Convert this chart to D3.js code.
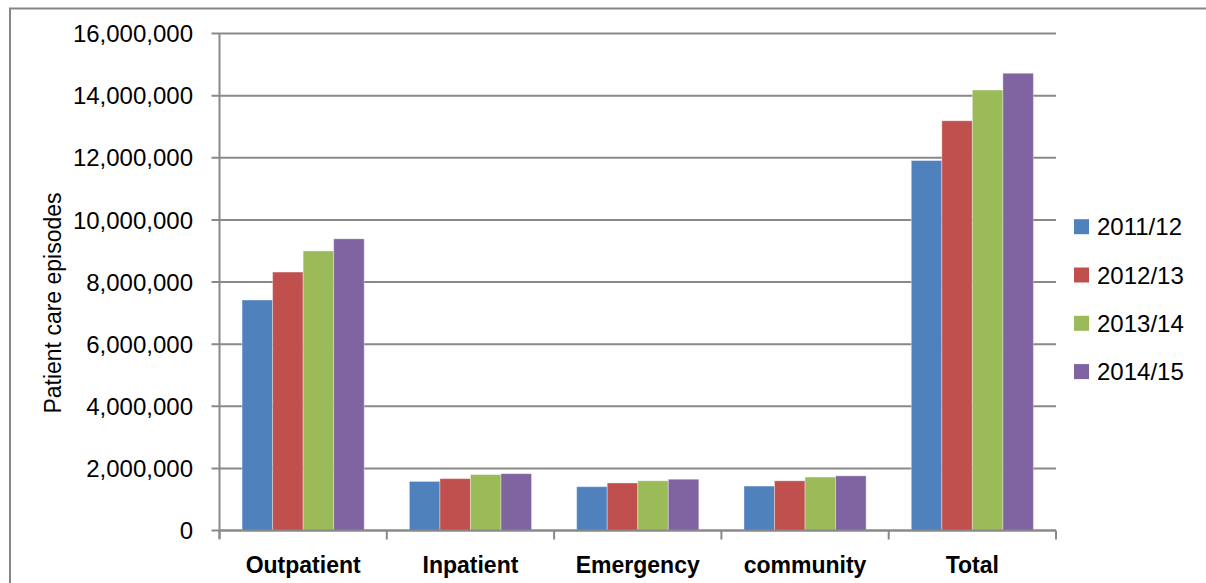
<!DOCTYPE html>
<html lang="en">

<head>
    <meta charset="UTF-8">
    <title>Patient care episodes</title>
    <script src="https://d3js.org/d3.v7.min.js"></script>
    <style>
        body { margin: 0; background: #fff; }
        text { font-family: "Liberation Sans", Arial, sans-serif; fill: #000; }
    </style>
</head>

<body>
    <script>
        const width = 1206;
        const height = 583;

        // data
        const categories = ["Outpatient", "Inpatient", "Emergency", "community", "Total"];
        const seriesNames = ["2011/12", "2012/13", "2013/14", "2014/15"];
        const v2011 = [7420000, 1580000, 1410000, 1430000, 11910000];
        const v2012 = [8320000, 1670000, 1530000, 1600000, 13190000];
        const v2013 = [9000000, 1800000, 1600000, 1720000, 14180000];
        const v2014 = [9390000, 1830000, 1650000, 1760000, 14720000];
        const yTicks = [0, 2000000, 4000000, 6000000, 8000000, 10000000, 12000000, 14000000, 16000000];
        const colors = ["#4F81BD", "#C0504D", "#9BBB59", "#8064A2"];

        const allSeries = [v2011, v2012, v2013, v2014];

        const plotLeft = 219.5, plotRight = 1056, plotTop = 33.5, plotBottom = 530.5;

        const svg = d3.select("body").append("svg")
            .attr("width", width)
            .attr("height", height);

        // outer chart frame (only left and top visible)
        svg.append("path")
            .attr("d", `M10,${height + 5} V8.5 H${width + 5}`)
            .attr("fill", "none")
            .attr("stroke", "#868686")
            .attr("stroke-width", 2);

        const y = d3.scaleLinear().domain([0, 16000000]).range([plotBottom, plotTop]);
        const x0 = d3.scaleBand().domain(categories).range([plotLeft, plotRight])
            .paddingInner(0.27).paddingOuter(0.135);
        const x1 = d3.scaleBand().domain(seriesNames).range([0, x0.bandwidth()]);

        // gridlines
        svg.append("g")
            .selectAll("line")
            .data(yTicks)
            .join("line")
            .attr("x1", plotLeft - 8)
            .attr("x2", plotRight)
            .attr("y1", d => y(d))
            .attr("y2", d => y(d))
            .attr("stroke", "#898989")
            .attr("stroke-width", 2);

        // y axis labels
        const fmt = d3.format(",");
        svg.append("g")
            .selectAll("text")
            .data(yTicks)
            .join("text")
            .attr("x", 193)
            .attr("y", d => y(d))
            .attr("dy", "0.36em")
            .attr("text-anchor", "end")
            .style("font-size", "24px")
            .text(d => fmt(d));

        // bars
        const groups = svg.append("g")
            .selectAll("g")
            .data(categories)
            .join("g")
            .attr("transform", d => `translate(${x0(d)},0)`);

        groups.selectAll("rect")
            .data((c, i) => allSeries.map((s, k) => ({ name: seriesNames[k], value: s[i], k })))
            .join("rect")
            .attr("x", d => x1(d.name))
            .attr("width", x1.bandwidth())
            .attr("y", d => y(d.value))
            .attr("height", d => y(0) - y(d.value))
            .attr("fill", d => colors[d.k])
            .attr("stroke", "rgba(255,255,255,0.35)")
            .attr("stroke-width", 1);

        // axes lines
        svg.append("line")
            .attr("x1", plotLeft).attr("x2", plotLeft)
            .attr("y1", plotTop).attr("y2", plotBottom + 8)
            .attr("stroke", "#898989").attr("stroke-width", 2);
        svg.append("line")
            .attr("x1", plotLeft).attr("x2", plotRight)
            .attr("y1", plotBottom).attr("y2", plotBottom)
            .attr("stroke", "#898989").attr("stroke-width", 2);

        // category ticks at band edges
        const step = x0.step();
        const edges = categories.map((c, i) => plotLeft + i * step).concat([plotRight]);
        svg.append("g")
            .selectAll("line")
            .data(edges)
            .join("line")
            .attr("x1", d => d).attr("x2", d => d)
            .attr("y1", plotBottom).attr("y2", plotBottom + 9)
            .attr("stroke", "#898989").attr("stroke-width", 2);

        // category labels
        svg.append("g")
            .selectAll("text")
            .data(categories)
            .join("text")
            .attr("x", d => x0(d) + x0.bandwidth() / 2)
            .attr("y", 573)
            .attr("text-anchor", "middle")
            .style("font-size", "23px")
            .style("font-weight", "bold")
            .text(d => d);

        // y axis title
        svg.append("text")
            .attr("transform", "translate(61,303) rotate(-90)")
            .attr("text-anchor", "middle")
            .style("font-size", "23px")
            .text("Patient care episodes");

        // legend
        const legend = svg.append("g")
            .selectAll("g")
            .data(seriesNames)
            .join("g")
            .attr("transform", (d, i) => `translate(1074,${226.7 + i * 48.3})`);

        legend.append("rect")
            .attr("x", 0).attr("y", -7.5)
            .attr("width", 15).attr("height", 15)
            .attr("fill", (d, i) => colors[i]);

        legend.append("text")
            .attr("x", 23)
            .attr("dy", "0.36em")
            .style("font-size", "24px")
            .text(d => d);
    </script>
</body>

</html>
